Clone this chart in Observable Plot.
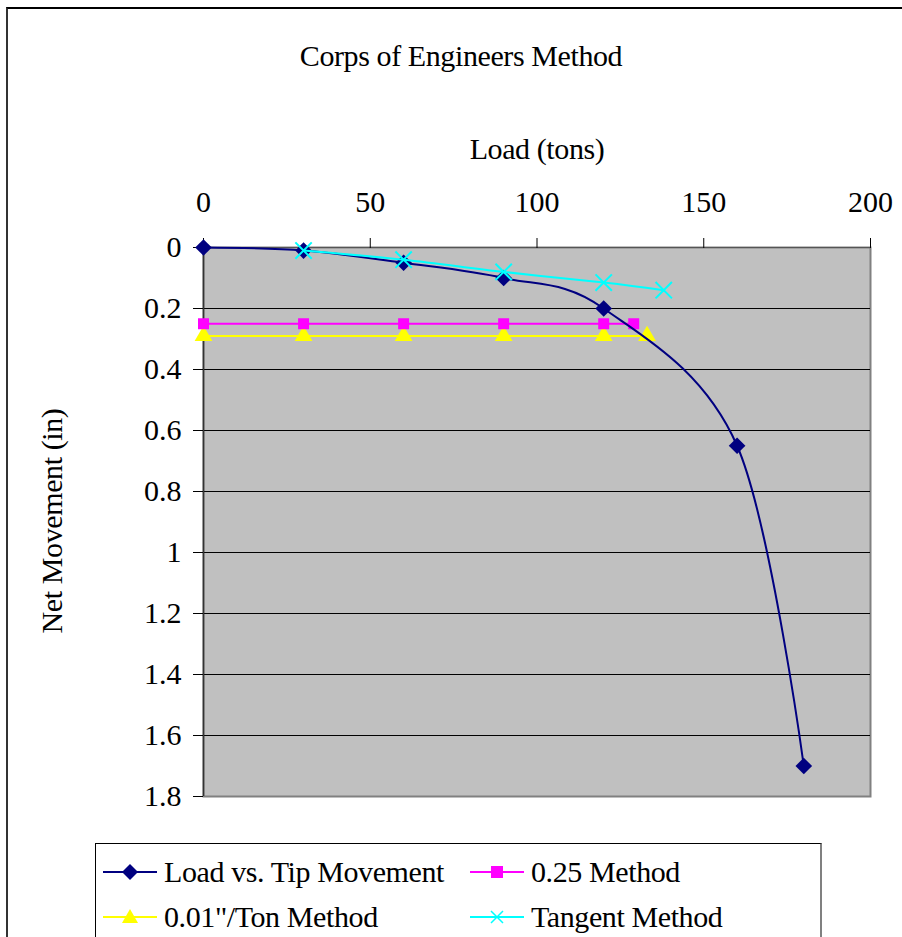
<!DOCTYPE html>
<html>
<head>
<meta charset="utf-8">
<script src="https://cdn.jsdelivr.net/npm/d3@7"></script>
<script src="https://cdn.jsdelivr.net/npm/@observablehq/plot@0.6"></script>
<style>
  html, body { margin: 0; padding: 0; background: #fff; overflow: hidden; }
  #wrap { position: relative; width: 902px; height: 937px; overflow: hidden; font-family: "Liberation Serif", "Times New Roman", Times, Tinos, "Nimbus Roman", "Nimbus Roman No9 L", FreeSerif, "Noto Serif", "DejaVu Serif", serif; color: #000; }
  #frame { position: absolute; left: 6px; top: 7px; width: 1000px; height: 1000px; border-left: 2px solid #333; border-top: 2px solid #000; box-sizing: border-box; }
  #title { position: absolute; left: 211px; width: 500px; top: 38px; text-align: center; font-size: 30px; line-height: 36px; letter-spacing: -0.4px; }
  #xlabel { position: absolute; left: 337px; width: 400px; top: 131px; text-align: center; font-size: 30px; line-height: 36px; letter-spacing: -0.4px; }
  #ylabel { position: absolute; left: 52px; top: 521px; transform: translate(-50%, -50%) rotate(-90deg); white-space: nowrap; font-size: 30px; line-height: 36px; letter-spacing: -0.4px; }
  #chart { position: absolute; left: 0; top: 0; }
  #legend { position: absolute; left: 95px; top: 843px; width: 727px; height: 120px; border: 1px solid #000; border-right: 2px solid #808080; box-sizing: border-box; background: #fff; }
  .item { position: absolute; display: flex; align-items: center; font-size: 30px; line-height: 36px; letter-spacing: -0.4px; white-space: nowrap; }
  .item svg { margin-right: 7px; }
</style>
</head>
<body>
<div id="wrap">
  <div id="frame"></div>
  <div id="title">Corps of Engineers Method</div>
  <div id="xlabel">Load (tons)</div>
  <div id="ylabel">Net Movement (in)</div>
  <div id="chart"></div>
  <div id="legend"></div>
</div>
<script>
// ---- data ----
const loadX = [0, 30, 60, 90, 120, 160, 180];
const loadY = [0, 0.01, 0.05, 0.10, 0.20, 0.65, 1.70];

const quarterX = [0, 30, 60, 90, 120, 129];
const quarterY = [0.25, 0.25, 0.25, 0.25, 0.25, 0.25];

const perTonX = [0, 30, 60, 90, 120, 133];
const perTonY = [0.29, 0.29, 0.29, 0.29, 0.29, 0.29];

const tangentX = [30, 60, 90, 120, 138];
const tangentY = [0.01, 0.04, 0.08, 0.115, 0.14];

const xTicks = [0, 50, 100, 150, 200];
const yTicks = [0, 0.2, 0.4, 0.6, 0.8, 1, 1.2, 1.4, 1.6, 1.8];
const yTickLabels = ["0", "0.2", "0.4", "0.6", "0.8", "1", "1.2", "1.4", "1.6", "1.8"];
const gridY = [0.2, 0.4, 0.6, 0.8, 1, 1.2, 1.4, 1.6];

const seriesNames = ["Load vs. Tip Movement", "0.25 Method", "0.01\"/Ton Method", "Tangent Method"];
const seriesColors = ["#000080", "#ff00ff", "#ffff00", "#00ffff"];

const toRows = (xs, ys) => xs.map((x, i) => ({x, y: ys[i]}));
const load = toRows(loadX, loadY);
const quarter = toRows(quarterX, quarterY);
const perTon = toRows(perTonX, perTonY);
const tangent = toRows(tangentX, tangentY);

const FONT = "'Liberation Serif', 'Times New Roman', Times, Tinos, 'Nimbus Roman', FreeSerif, 'Noto Serif', 'DejaVu Serif', serif";

const chart = Plot.plot({
  width: 902,
  height: 830,
  marginLeft: 203,
  marginRight: 32,
  marginTop: 247,
  marginBottom: 34,
  style: {fontFamily: FONT, fontSize: "30px", background: "transparent", color: "#000", overflow: "visible"},
  x: {domain: [0, 200], axis: null},
  y: {domain: [0, 1.8], reverse: true, axis: null},
  marks: [
    Plot.frame({fill: "#c0c0c0", stroke: "#808080", strokeWidth: 2}),
    Plot.ruleY(gridY, {stroke: "#000", strokeWidth: 1.2}),
    Plot.ruleX([0], {stroke: "#333", strokeWidth: 1.5}),
    Plot.ruleY([0], {stroke: "#555", strokeWidth: 1}),
    Plot.axisX({anchor: "top", ticks: xTicks, tickSize: 10, tickPadding: 26, label: null, fontSize: 30, fontFamily: FONT}),
    Plot.axisY({anchor: "left", ticks: yTicks, tickFormat: (d) => yTickLabels[yTicks.indexOf(d)], tickSize: 10, tickPadding: 12, label: null, fontSize: 30, fontFamily: FONT}),
    // 0.01"/Ton
    Plot.line(perTon, {x: "x", y: "y", stroke: seriesColors[2], strokeWidth: 2}),
    Plot.dot(perTon, {x: "x", y: "y", symbol: "triangle2", r: 8.5, fill: seriesColors[2], stroke: "none"}),
    // 0.25
    Plot.line(quarter, {x: "x", y: "y", stroke: seriesColors[1], strokeWidth: 2}),
    Plot.dot(quarter, {x: "x", y: "y", symbol: "square2", r: 7, fill: seriesColors[1], stroke: "none"}),
    // Load vs tip
    Plot.line(load, {x: "x", y: "y", stroke: seriesColors[0], strokeWidth: 2, curve: "cardinal"}),
    Plot.dot(load, {x: "x", y: "y", symbol: "diamond2", r: 7.5, fill: seriesColors[0], stroke: "none"}),
    // Tangent
    Plot.line(tangent, {x: "x", y: "y", stroke: seriesColors[3], strokeWidth: 2, curve: "cardinal"}),
    Plot.dot(tangent, {x: "x", y: "y", symbol: "times", r: 7.5, stroke: seriesColors[3], strokeWidth: 2})
  ]
});
document.getElementById("chart").appendChild(chart);

// ---- legend ----
const legend = document.getElementById("legend");
const symbolPaths = {
  diamond: "M27,-8 L35,0 L27,8 L19,0 Z",
  square: "M21,-6 L33,-6 L33,6 L21,6 Z",
  triangle: "M27,-8 L35,6 L19,6 Z",
  times: "M21,-6 L33,6 M33,-6 L21,6"
};
const legendItems = [
  {name: seriesNames[0], color: seriesColors[0], sym: "diamond", left: 7, top: 10},
  {name: seriesNames[1], color: seriesColors[1], sym: "square", left: 374, top: 10},
  {name: seriesNames[2], color: seriesColors[2], sym: "triangle", left: 7, top: 55},
  {name: seriesNames[3], color: seriesColors[3], sym: "times", left: 374, top: 55}
];
legendItems.forEach(it => {
  const div = document.createElement("div");
  div.className = "item";
  div.style.left = it.left + "px";
  div.style.top = it.top + "px";
  const filled = it.sym !== "times";
  div.innerHTML = `<svg width="54" height="20" viewBox="0 -10 54 20"><line x1="0" x2="54" y1="0" y2="0" stroke="${it.color}" stroke-width="2"/><path d="${symbolPaths[it.sym]}" fill="${filled ? it.color : "none"}" stroke="${filled ? "none" : it.color}" stroke-width="1.5"/></svg><span>${it.name}</span>`;
  legend.appendChild(div);
});
</script>
</body>
</html>
